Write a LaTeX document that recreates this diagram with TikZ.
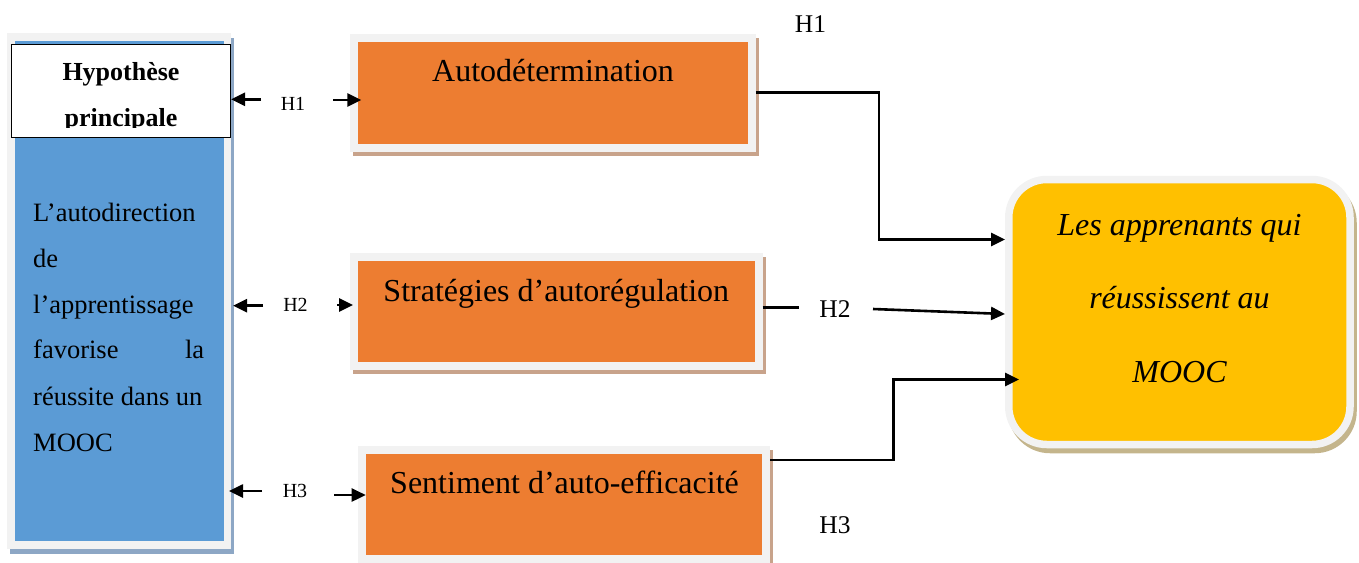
\documentclass[tikz,border=0pt]{standalone}
\usepackage{fontspec}
\setmainfont{Liberation Serif}
\usetikzlibrary{arrows.meta,backgrounds,calc}
\definecolor{orangeF}{HTML}{ED7D31}
\definecolor{grayB}{HTML}{F2F2F2}
\definecolor{orangeSh}{HTML}{C8A38B}
\definecolor{blueF}{HTML}{5B9BD5}
\definecolor{blueSh}{HTML}{8DA7C5}
\definecolor{yellowF}{HTML}{FFC000}
\definecolor{yellowSh}{HTML}{C4B58C}
\tikzset{
  grayframe/.style={draw=grayB, inner sep=0pt, anchor=north west},
  obox/.style={grayframe, fill=orangeF, line width=8pt},
  btext/.style={inner sep=0pt, anchor=base west, font=\fontsize{26.5}{30}\selectfont},
  hyptext/.style={inner sep=0pt, anchor=base, font=\fontsize{26}{30}\selectfont\bfseries},
  otext/.style={inner sep=0pt, anchor=base, font=\fontsize{32}{36}\selectfont},
  ytext/.style={inner sep=0pt, anchor=base, font=\fontsize{32}{36}\selectfont\itshape},
  hbig/.style={inner sep=0pt, anchor=base, font=\fontsize{25.5}{30}\selectfont},
  hsmall/.style={inner sep=0pt, anchor=base, font=\fontsize{20}{24}\selectfont},
  conn/.style={line width=2.6pt},
  arr/.style={line width=2.6pt, -{Triangle[length=14pt,width=13pt]}}
}
\begin{document}
\begin{tikzpicture}[x=1pt,y=-1pt]
\useasboundingbox (0,0) rectangle (1359,562);

% left box
\node[grayframe, fill=blueF, line width=7.5pt, minimum width=216.5pt, minimum height=508pt] (L) at (7,33) {};
\node[draw=black, fill=white, line width=1.4pt, inner sep=0pt, minimum width=218.7pt, minimum height=92.7pt, anchor=north west] (H) at (11,44) {};
\coordinate (hc) at (231,127);
\begin{scope}
  \clip (H.north west) rectangle (hc);
  \node[hyptext] (hy1) at (121,80.7) {Hypothèse};
  \node[hyptext] (hy2) at (121,126.5) {principale};
\end{scope}
\node[btext] (p1) at (33,221) {L’autodirection};
\node[btext] (p2) at (33,267) {de};
\node[btext] (p3) at (33,313) {l’apprentissage};
\node[btext] (p4) at (33,358.5) {\hbox to 171pt{favorise\hfill la}};
\node[btext] (p5) at (33,405) {réussite dans un};
\node[btext] (p6) at (33,451) {MOOC};

% orange boxes
\node[obox, minimum width=398pt, minimum height=109.5pt] (b1) at (349.75,34) {};
\node[obox, minimum width=404.7pt, minimum height=108.7pt] (b2) at (350,253.3) {};
\node[obox, minimum width=404pt, minimum height=109pt] (b3) at (358,446) {};
\node[otext] (t1) at (553,81) {Autodétermination};
\node[otext] (t2) at (556.3,301) {Stratégies d’autorégulation};
\node[otext] (t3) at (564.5,493) {Sentiment d’auto-efficacité};

% yellow box
\node[grayframe, fill=yellowF, line width=7.5pt, rounded corners=38pt, minimum width=341.25pt, minimum height=265pt] (Y) at (1005,175.75) {};
\node[ytext] (y1) at (1179.5,235) {Les apprenants qui};
\node[ytext] (y2) at (1179.5,308) {réussissent au};
\node[ytext] (y3) at (1179.5,382) {MOOC};

% shadows
\begin{scope}[on background layer]
  \fill[blueSh] ([shift={(2.5pt,-5pt)}]L.south west) rectangle ([shift={(2.5pt,-5pt)}]L.north east);
  \fill[orangeSh] ([shift={(3pt,-4pt)}]b1.south west) rectangle ([shift={(3pt,-4pt)}]b1.north east);
  \fill[orangeSh] ([shift={(3pt,-4pt)}]b2.south west) rectangle ([shift={(3pt,-4pt)}]b2.north east);
  \fill[orangeSh] ([shift={(3pt,-4pt)}]b3.south west) rectangle ([shift={(3pt,-4pt)}]b3.north east);
  \fill[yellowSh, rounded corners=42pt] ([shift={(3pt,-5pt)}]Y.south west) rectangle ([shift={(3pt,-5pt)}]Y.north east);
\end{scope}

% small labels
\node[hsmall] (s1) at (293,110) {H1};
\node[hsmall] (s2) at (295.5,311) {H2};
\node[hsmall] (s3) at (295,497) {H3};
% big labels
\node[hbig] (g1) at (810.5,32.3) {H1};
\node[hbig] (g2) at (835,317.7) {H2};
\node[hbig] (g3) at (835,533) {H3};

% short arrows
\coordinate (a1l) at (261,99.3);
\coordinate (a1r) at (333,100);
\coordinate (a2l) at (263,305.7);
\coordinate (a2r) at (337,305);
\coordinate (a3l) at (262,491);
\coordinate (a3r) at (334,495);
\draw[arr] (a1l) -- (a1l -| L.east);
\draw[arr, shorten >=-11.5pt] (a1r) -- (a1r -| b1.west);
\draw[arr, shorten >=2pt] (a2l) -- (a2l -| L.east);
\draw[arr, shorten >=-3pt] (a2r) -- (a2r -| b2.west);
\draw[arr, shorten >=-2pt] (a3l) -- (a3l -| L.east);
\draw[arr, shorten >=-7.7pt] (a3r) -- (a3r -| b3.west);

% connectors to the yellow box
\coordinate (k1) at (879,239.5);
\draw[arr] (b1.east) -| (k1) -- (k1 -| Y.west);
\coordinate (c2a) at (799,307.2);
\coordinate (c2b) at (873,309);
\draw[conn] (b2.east |- c2a) -- (c2a);
\draw[arr] (c2b) -- ([yshift=-2pt]Y.west);
\coordinate (k3a) at (893.6,460);
\coordinate (k3b) at (893.6,379.5);
\draw[arr, shorten >=-14pt] (b3.east |- k3a) -- (k3a) -- (k3b) -- (k3b -| Y.west);
\end{tikzpicture}
\end{document}
